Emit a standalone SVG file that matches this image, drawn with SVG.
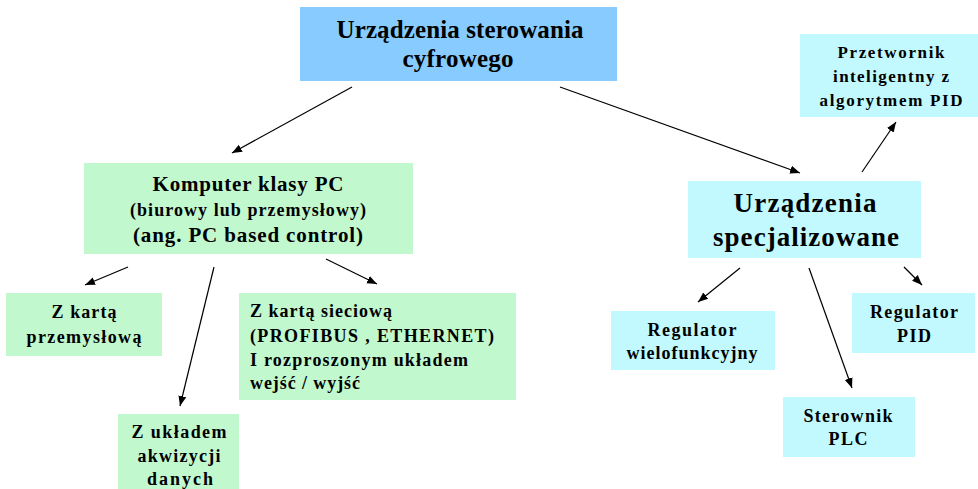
<svg xmlns="http://www.w3.org/2000/svg" width="978" height="489" viewBox="0 0 978 489">
  <style>
    text { font-family: "Liberation Serif", "Times New Roman", Times, "DejaVu Serif", "Noto Serif", serif; font-weight: 700; fill: #000; }
    .c { text-anchor: middle; }
    .blue { fill: #87CBFF; }
    .green { fill: #C2F8CE; }
    .cyan { fill: #C2F9FF; }
    .edge { stroke: #000; stroke-width: 1.2; fill: none; marker-end: url(#arr); }
  </style>
  <defs>
    <marker id="arr" viewBox="0 0 10 10" refX="10" refY="5" markerWidth="10" markerHeight="10" markerUnits="userSpaceOnUse" orient="auto">
      <path d="M0,1 L10,5 L0,9 Z" fill="#000"/>
    </marker>
  </defs>
  <rect width="978" height="489" fill="#fff"/>

  <g id="connectors">
    <line class="edge" x1="352" y1="87" x2="232" y2="153"/>
    <line class="edge" x1="560" y1="87" x2="800" y2="173"/>
    <line class="edge" x1="128" y1="267" x2="85" y2="285"/>
    <line class="edge" x1="214" y1="267" x2="180" y2="406"/>
    <line class="edge" x1="326" y1="259" x2="377" y2="284"/>
    <line class="edge" x1="862" y1="172" x2="896" y2="122"/>
    <line class="edge" x1="740" y1="268" x2="698" y2="302"/>
    <line class="edge" x1="809" y1="268" x2="852" y2="388"/>
    <line class="edge" x1="904" y1="267" x2="922" y2="285"/>
  </g>

  <g id="root">
    <rect class="blue" x="300" y="7" width="317" height="74"/>
    <text class="c" x="460" y="38" font-size="25" textLength="247" lengthAdjust="spacing">Urządzenia sterowania</text>
    <text class="c" x="458" y="67" font-size="25" textLength="111" lengthAdjust="spacing">cyfrowego</text>
  </g>

  <g id="pc">
    <rect class="green" x="84" y="163" width="329" height="91"/>
    <text class="c" x="248" y="191" font-size="21" textLength="191" lengthAdjust="spacing">Komputer klasy PC</text>
    <text class="c" x="248" y="216" font-size="18" textLength="236" lengthAdjust="spacing">(biurowy lub przemysłowy)</text>
    <text class="c" x="248" y="242" font-size="21" textLength="230" lengthAdjust="spacing">(ang. PC based control)</text>
  </g>

  <g id="karta-przemyslowa">
    <rect class="green" x="6" y="293" width="156" height="63"/>
    <text class="c" x="84" y="318" font-size="18" textLength="65" lengthAdjust="spacing">Z kartą</text>
    <text class="c" x="84" y="343" font-size="18" textLength="115" lengthAdjust="spacing">przemysłową</text>
  </g>

  <g id="karta-sieciowa">
    <rect class="green" x="239" y="293" width="277" height="107"/>
    <text x="250" y="317" font-size="18" textLength="142" lengthAdjust="spacing">Z kartą sieciową</text>
    <text x="250" y="342" font-size="18" textLength="244" lengthAdjust="spacing">(PROFIBUS , ETHERNET)</text>
    <text x="250" y="366" font-size="18" textLength="218" lengthAdjust="spacing">I rozproszonym układem</text>
    <text x="250" y="389" font-size="18" textLength="110" lengthAdjust="spacing">wejść / wyjść</text>
  </g>

  <g id="akwizycja">
    <rect class="green" x="118" y="414" width="121" height="80"/>
    <text class="c" x="179" y="438" font-size="18" textLength="95" lengthAdjust="spacing">Z układem</text>
    <text class="c" x="179" y="462" font-size="18" textLength="83" lengthAdjust="spacing">akwizycji</text>
    <text class="c" x="180" y="485" font-size="18" textLength="66" lengthAdjust="spacing">danych</text>
  </g>

  <g id="specjalizowane">
    <rect class="cyan" x="688" y="181" width="233" height="77"/>
    <text class="c" x="805" y="212" font-size="27" textLength="143" lengthAdjust="spacing">Urządzenia</text>
    <text class="c" x="806" y="246" font-size="27" textLength="186" lengthAdjust="spacing">specjalizowane</text>
  </g>

  <g id="przetwornik">
    <rect class="cyan" x="800" y="34" width="178" height="83"/>
    <text class="c" x="891" y="58" font-size="17" textLength="107" lengthAdjust="spacing">Przetwornik</text>
    <text class="c" x="891" y="82" font-size="17" textLength="116" lengthAdjust="spacing">inteligentny z</text>
    <text class="c" x="891" y="106" font-size="17" textLength="143" lengthAdjust="spacing">algorytmem PID</text>
  </g>

  <g id="regulator-wielofunkcyjny">
    <rect class="cyan" x="611" y="311" width="164" height="59"/>
    <text class="c" x="692" y="336" font-size="18" textLength="89" lengthAdjust="spacing">Regulator</text>
    <text class="c" x="692" y="359" font-size="18" textLength="131" lengthAdjust="spacing">wielofunkcyjny</text>
  </g>

  <g id="regulator-pid">
    <rect class="cyan" x="852" y="293" width="123" height="60"/>
    <text class="c" x="914" y="318" font-size="18" textLength="88" lengthAdjust="spacing">Regulator</text>
    <text class="c" x="914" y="342" font-size="18" textLength="34" lengthAdjust="spacing">PID</text>
  </g>

  <g id="sterownik-plc">
    <rect class="cyan" x="783" y="397" width="132" height="60"/>
    <text class="c" x="848" y="422" font-size="18" textLength="89" lengthAdjust="spacing">Sterownik</text>
    <text class="c" x="848" y="445" font-size="18" textLength="39" lengthAdjust="spacing">PLC</text>
  </g>
</svg>
